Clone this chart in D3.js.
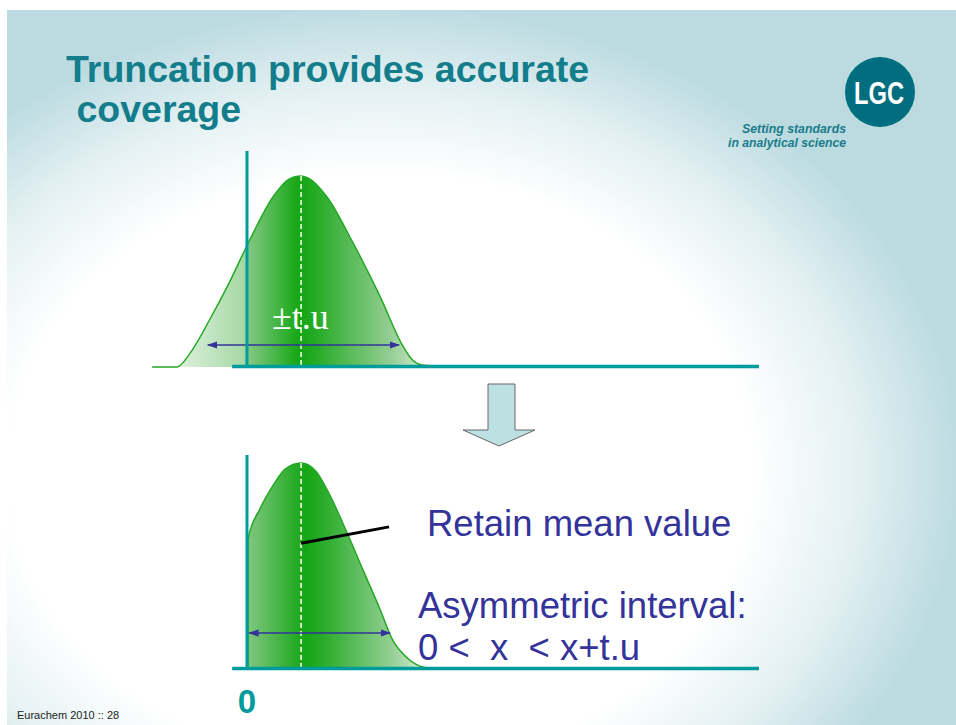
<!DOCTYPE html>
<html>
<head>
<meta charset="utf-8">
<script src="https://cdn.jsdelivr.net/npm/d3@7"></script>
<style>
  html, body { margin: 0; padding: 0; background: #fff; }
  svg { display: block; }
</style>
</head>
<body>
<script>
// curve shapes (x in units of the axis, y = relative density, peak = 1)
var topX = [-1.79, -1.32, -1.08, -0.70, -0.32, 0.06, 0.49, 0.80, 1.0, 1.15, 1.51, 2.0, 2.51, 2.94, 3.08, 3.30, 3.79];
var topY = [0, 0, 0.07, 0.25, 0.45, 0.67, 0.89, 0.985, 1.0, 0.99, 0.89, 0.65, 0.37, 0.11, 0.05, 0.01, 0];
var bottomX = [0.02, 0.02, 0.25, 0.49, 0.72, 1.02, 1.30, 1.57, 1.89, 2.19, 2.51, 2.75, 3.04, 3.32, 3.64];
var bottomY = [0, 0.63, 0.78, 0.89, 0.97, 1.0, 0.96, 0.84, 0.66, 0.48, 0.29, 0.14, 0.05, 0.01, 0];
var meanValue = 1.02;
var topInterval = [-0.74, 2.87];
var bottomInterval = [0.04, 2.70];
var axisExtent = [-0.28, 9.66];
var leaderLine = [[1.02, 0.61], [2.68, 0.69]];

var titleLines = ["Truncation provides accurate", " coverage"];
var tagLines = ["Setting standards", "in analytical science"];
var noteLines = ["Retain mean value", "Asymmetric interval:", "0 <  x  < x+t.u"];
var intervalLabel = "\u00b1t.u";
var zeroLabel = "0";
var footer = "Eurachem 2010 :: 28";

var W = 956, H = 725;
var teal = "#009b9b", navy = "#33339a", green = "#22a822";

var svg = d3.select("body").append("svg")
    .attr("width", W)
    .attr("height", H);
var defs = svg.append("defs");

// slide background: pale blue with a white glow
var glow = defs.append("radialGradient")
    .attr("id", "glow")
    .attr("gradientUnits", "userSpaceOnUse")
    .attr("cx", 380).attr("cy", 470).attr("r", 580)
    .attr("gradientTransform", "translate(380,470) scale(1,0.8) translate(-380,-470)");
[[0, "#ffffff"], [0.64, "#ffffff"], [0.82, "#e4f1f3"], [1, "#bcdbe1"]].forEach(function (s) {
    glow.append("stop").attr("offset", s[0]).attr("stop-color", s[1]);
});
svg.append("rect").attr("x", 7).attr("y", 10).attr("width", W - 7).attr("height", H - 10)
    .attr("fill", "url(#glow)");

// scales
var x = d3.scaleLinear().domain([0, 10]).range([247, 777]);
var yTop = d3.scaleLinear().domain([0, 1]).range([367, 176]);
var yBot = d3.scaleLinear().domain([0, 1]).range([669, 463]);

function grad(id, x1, x2, stops) {
    var g = defs.append("linearGradient").attr("id", id)
        .attr("gradientUnits", "userSpaceOnUse")
        .attr("x1", x1).attr("x2", x2).attr("y1", 0).attr("y2", 0);
    stops.forEach(function (s) { g.append("stop").attr("offset", s[0]).attr("stop-color", s[1]); });
}
grad("gTop", x(topX[0]), x(topX[topX.length - 1]), [
    [0, "#f4faf4"], [0.31, "#a6d8a6"], [0.33, "#80c780"], [0.5, "#12a612"],
    [0.56, "#28ac28"], [0.8, "#92cd92"], [1, "#f6fbf6"]]);
grad("gBot", x(bottomX[0]), x(bottomX[bottomX.length - 1]), [
    [0, "#80c680"], [0.3, "#14a614"], [0.4, "#2cad2c"], [0.75, "#95cf95"], [1, "#f6fbf6"]]);

defs.append("marker").attr("id", "ah")
    .attr("viewBox", "0 0 10 10").attr("refX", 9).attr("refY", 5)
    .attr("markerWidth", 7).attr("markerHeight", 7).attr("orient", "auto-start-reverse")
    .append("path").attr("d", "M0,1.5L10,5L0,8.5Z").attr("fill", navy);

function panel(xs, ys, yScale, gradId, interval, yAxisTop) {
    var pts = xs.map(function (v, i) { return [v, ys[i]]; });
    var area = d3.area().x(function (d) { return x(d[0]); })
        .y0(yScale(0)).y1(function (d) { return yScale(d[1]); })
        .curve(d3.curveMonotoneX);
    var line = d3.line().x(function (d) { return x(d[0]); })
        .y(function (d) { return yScale(d[1]); })
        .curve(d3.curveMonotoneX);
    svg.append("path").attr("d", area(pts)).attr("fill", "url(#" + gradId + ")");
    svg.append("path").attr("d", line(pts)).attr("fill", "none")
        .attr("stroke", green).attr("stroke-width", 1.5);
    // mean line
    svg.append("line").attr("x1", x(meanValue)).attr("x2", x(meanValue))
        .attr("y1", yScale(1)).attr("y2", yScale(0))
        .attr("stroke", "#fff").attr("stroke-width", 1.5).attr("stroke-dasharray", "5,3");
    // interval arrow
    var ay = interval.y;
    svg.append("line").attr("x1", x(interval.v[0])).attr("x2", x(interval.v[1]))
        .attr("y1", ay).attr("y2", ay)
        .attr("stroke", navy).attr("stroke-width", 1.5)
        .attr("marker-start", "url(#ah)").attr("marker-end", "url(#ah)");
    // axes
    svg.append("line").attr("x1", x(0)).attr("x2", x(0))
        .attr("y1", yAxisTop).attr("y2", yScale(0) + 1)
        .attr("stroke", teal).attr("stroke-width", 3);
    svg.append("line").attr("x1", x(axisExtent[0])).attr("x2", x(axisExtent[1]))
        .attr("y1", yScale(0) - 0.5).attr("y2", yScale(0) - 0.5)
        .attr("stroke", teal).attr("stroke-width", 3.5);
}

panel(topX, topY, yTop, "gTop", { v: topInterval, y: 345 }, 151);
panel(bottomX, bottomY, yBot, "gBot", { v: bottomInterval, y: 633 }, 455);

// leader line to the mean
svg.append("line")
    .attr("x1", x(leaderLine[0][0])).attr("y1", yBot(leaderLine[0][1]))
    .attr("x2", x(leaderLine[1][0])).attr("y2", yBot(leaderLine[1][1]))
    .attr("stroke", "#000").attr("stroke-width", 3);

svg.append("text").attr("x", 272).attr("y", 329)
    .attr("font-family", "'Liberation Serif', 'Times New Roman', serif")
    .attr("font-size", 36).attr("fill", "#fff").text(intervalLabel);

// block arrow between the panels
svg.append("path")
    .attr("d", "M488,384H515V430H535L499,446L463,430H488Z")
    .attr("fill", "#bde0e3").attr("stroke", "#666").attr("stroke-width", 1);

// title
svg.append("g").selectAll("text").data(titleLines).enter().append("text")
    .attr("x", 66).attr("y", function (d, i) { return 82 + i * 40; })
    .attr("xml:space", "preserve")
    .attr("font-family", "'Liberation Sans', Arial, sans-serif")
    .attr("font-weight", "bold").attr("font-size", 37.5)
    .attr("fill", "#137d8b").text(function (d) { return d; });

// logo
svg.append("circle").attr("cx", 880).attr("cy", 92).attr("r", 35).attr("fill", "#006e7e");
svg.append("text").attr("x", 879).attr("y", 104).attr("text-anchor", "middle")
    .attr("textLength", 50).attr("lengthAdjust", "spacingAndGlyphs")
    .attr("font-family", "'Liberation Sans Narrow', 'Arial Narrow', 'Liberation Sans', sans-serif")
    .attr("font-weight", "bold").attr("font-size", 32)
    .attr("fill", "#fff").text("LGC");
svg.append("g").selectAll("text").data(tagLines).enter().append("text")
    .attr("x", 846).attr("y", function (d, i) { return 133 + i * 13.5; })
    .attr("text-anchor", "end")
    .attr("textLength", function (d, i) { return i === 0 ? 104 : 118; })
    .attr("lengthAdjust", "spacingAndGlyphs")
    .attr("font-family", "'Liberation Sans', Arial, sans-serif")
    .attr("font-style", "italic").attr("font-weight", "bold").attr("font-size", 13)
    .attr("fill", "#1a7c8a").text(function (d) { return d; });

// notes
svg.append("g").selectAll("text").data(noteLines).enter().append("text")
    .attr("x", function (d, i) { return i === 0 ? 427 : 418; })
    .attr("y", function (d, i) { return [536, 618, 660][i]; })
    .attr("xml:space", "preserve")
    .attr("font-family", "'Liberation Sans', Arial, sans-serif")
    .attr("font-size", 36.5).attr("fill", navy).text(function (d) { return d; });

svg.append("text").attr("x", x(0)).attr("y", 713).attr("text-anchor", "middle")
    .attr("font-family", "'Liberation Sans', Arial, sans-serif")
    .attr("font-weight", "bold").attr("font-size", 33).attr("fill", teal).text(zeroLabel);

svg.append("text").attr("x", 17).attr("y", 719)
    .attr("font-family", "'Liberation Sans', Arial, sans-serif")
    .attr("font-size", 11).attr("fill", "#222").text(footer);
</script>
</body>
</html>
